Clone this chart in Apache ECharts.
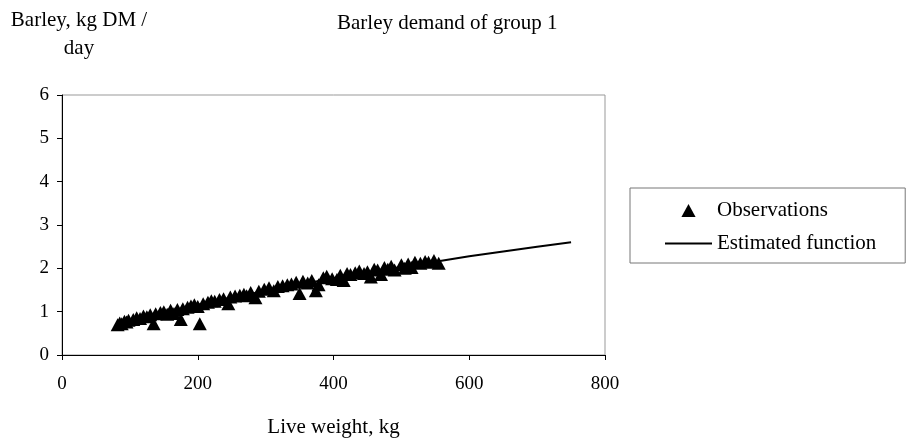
<!DOCTYPE html>
<html>
<head>
    <meta charset="UTF-8">
    <title>Barley demand of group 1</title>
    <script src="https://cdn.jsdelivr.net/npm/echarts@6/dist/echarts.min.js"></script>
    <style>
        html, body { margin: 0; padding: 0; background: #fff; }
        #chart { width: 908px; height: 442px; }
    </style>
</head>
<body>
<div id="chart"></div>
<script>
    // observations (live weight kg, barley kg DM/day)
    const obsWeight = [82, 85, 88, 92, 95, 98, 105, 110, 115, 120, 125, 130, 135, 138, 145, 150, 155, 160, 165, 170,
        175, 178, 185, 190, 195, 200, 203, 208, 215, 220, 225, 232, 238, 245, 248, 255, 262, 268, 272, 278,
        285, 290, 298, 305, 312, 318, 325, 332, 338, 345, 350, 355, 362, 368, 374, 378, 385, 390, 398, 405,
        410, 415, 420, 425, 432, 438, 445, 450, 455, 460, 465, 470, 475, 480, 485, 490, 500, 505, 510, 515,
        520, 528, 535, 540, 548, 555]
    const obsBarley = [0.70, 0.74, 0.72, 0.78, 0.76, 0.80, 0.82, 0.86, 0.84, 0.90, 0.88, 0.93, 0.72, 0.95, 0.98, 1.00, 0.94, 1.03, 0.96, 1.05,
        0.82, 1.07, 1.10, 1.13, 1.16, 1.12, 0.72, 1.18, 1.22, 1.25, 1.24, 1.28, 1.30, 1.18, 1.34, 1.36, 1.38, 1.40, 1.37, 1.44,
        1.32, 1.47, 1.52, 1.55, 1.48, 1.58, 1.60, 1.62, 1.64, 1.68, 1.42, 1.70, 1.66, 1.72, 1.48, 1.62, 1.78, 1.82, 1.76, 1.74,
        1.84, 1.72, 1.88, 1.86, 1.90, 1.94, 1.88, 1.92, 1.80, 1.98, 1.96, 1.86, 2.02, 1.98, 2.05, 1.96, 2.08, 2.00, 2.10, 2.02,
        2.14, 2.12, 2.16, 2.14, 2.18, 2.12]

    // estimated function, read at a few weights
    const fitWeight = [85, 100, 150, 200, 250, 300, 350, 400, 450, 500, 550, 600, 650, 700, 750]
    const fitBarley = [0.70, 0.77, 0.97, 1.16, 1.33, 1.48, 1.63, 1.77, 1.90, 2.03, 2.15, 2.28, 2.39, 2.50, 2.60]

    const xTicks = [0, 200, 400, 600, 800]
    const yTicks = [0, 1, 2, 3, 4, 5, 6]

    const serif = 'Liberation Serif'

    let myChart = echarts.init(document.getElementById('chart'))
    let option = {
        animation: false,
        backgroundColor: '#fff',
        textStyle: {fontFamily: serif, color: '#000'},
        title: {
            text: 'Barley demand of group 1',
            left: 332,
            top: 8,
            textStyle: {fontFamily: serif, fontSize: 21, fontWeight: 'normal', color: '#000'}
        },
        graphic: [
            {
                type: 'text',
                x: 79,
                y: 6,
                style: {
                    text: 'Barley, kg DM /\nday',
                    textAlign: 'center',
                    fontFamily: serif,
                    fontSize: 21,
                    lineHeight: 28,
                    fill: '#000'
                }
            }
        ],
        legend: {
            orient: 'vertical',
            left: 630,
            top: 188,
            padding: [12, 29, 9, 35],
            itemGap: 12,
            itemWidth: 47,
            itemHeight: 13,
            borderColor: '#777',
            borderWidth: 1,
            textStyle: {fontFamily: serif, fontSize: 21, color: '#000'},
            data: [
                {name: 'Observations', icon: 'path://M6,0 L12,11 L0,11 Z'},
                {name: 'Estimated function', icon: 'path://M0,0 L47,0 L47,2 L0,2 Z'}
            ]
        },
        grid: {
            left: 62,
            right: 303,
            top: 95,
            bottom: 87,
            outerBoundsMode: 'none',
            show: true,
            borderColor: '#999',
            borderWidth: 1
        },
        xAxis: {
            type: 'value',
            min: xTicks[0],
            max: xTicks[xTicks.length - 1],
            interval: 200,
            name: 'Live weight, kg',
            nameLocation: 'middle',
            nameGap: 62,
            nameTextStyle: {fontFamily: serif, fontSize: 21, color: '#000'},
            axisLine: {lineStyle: {color: '#000', width: 1}},
            axisTick: {show: true, length: 5, lineStyle: {color: '#000'}},
            axisLabel: {fontFamily: serif, fontSize: 19, color: '#000', margin: 20},
            splitLine: {show: false}
        },
        yAxis: {
            type: 'value',
            min: yTicks[0],
            max: yTicks[yTicks.length - 1],
            interval: 1,
            axisLine: {show: true, lineStyle: {color: '#000', width: 1}},
            axisTick: {show: true, length: 5, lineStyle: {color: '#000'}},
            axisLabel: {fontFamily: serif, fontSize: 19, color: '#000', margin: 13},
            splitLine: {show: false}
        },
        series: [
            {
                name: 'Observations',
                type: 'scatter',
                symbol: 'triangle',
                symbolSize: [14, 13],
                itemStyle: {color: '#000', opacity: 1},
                data: obsWeight.map((w, i) => [w, obsBarley[i]]),
                z: 3
            },
            {
                name: 'Estimated function',
                type: 'line',
                showSymbol: false,
                symbol: 'none',
                lineStyle: {color: '#000', width: 2},
                itemStyle: {color: '#000'},
                data: fitWeight.map((w, i) => [w, fitBarley[i]]),
                z: 2
            }
        ]
    }
    myChart.setOption(option)
</script>
</body>
</html>
